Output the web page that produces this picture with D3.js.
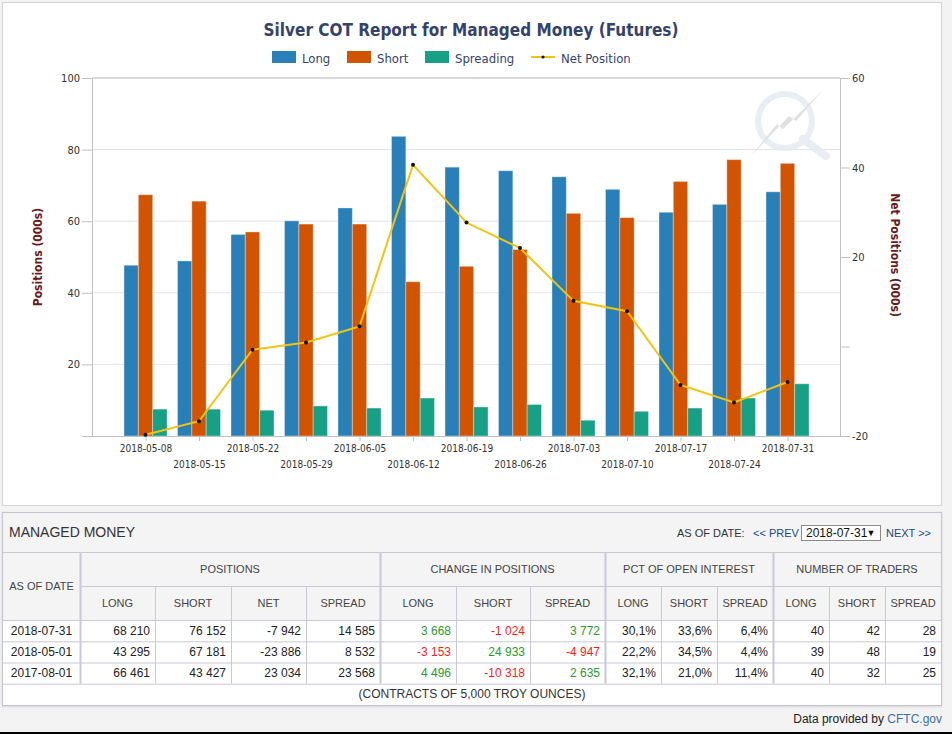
<!DOCTYPE html>
<html>
<head>
<meta charset="utf-8">
<script src="https://cdn.jsdelivr.net/npm/d3@7"></script>
<style>
  body { margin: 0; background: #f3f3f3; }
  svg { display: block; }
</style>
</head>
<body>
<script>
// weekly managed money positions (000s)
const dates = ['2018-05-08', '2018-05-15', '2018-05-22', '2018-05-29', '2018-06-05', '2018-06-12',
	'2018-06-19', '2018-06-26', '2018-07-03', '2018-07-10', '2018-07-17', '2018-07-24', '2018-07-31']
const longPos = [47.7, 48.9, 56.3, 60.1, 63.7, 83.7, 75.1, 74.1, 72.4, 68.9, 62.5, 64.7, 68.21]
const shortPos = [67.4, 65.6, 57.0, 59.2, 59.2, 43.1, 47.4, 52.1, 62.2, 61.0, 71.1, 77.2, 76.152]
const spreadPos = [7.5, 7.5, 7.2, 8.4, 7.8, 10.6, 8.1, 8.8, 4.4, 6.9, 7.8, 10.6, 14.585]
const netPos = [-19.7, -16.7, -0.7, 0.9, 4.5, 40.6, 27.7, 22.0, 10.2, 7.9, -8.6, -12.5, -7.942]
const leftTicks = [0, 20, 40, 60, 80, 100]
const rightTicks = [-20, 0, 20, 40, 60]

// table
const asOfDates = ['2018-07-31', '2018-05-01', '2017-08-01']
const posLong = [68210, 43295, 66461]
const posShort = [76152, 67181, 43427]
const posNet = [-7942, -23886, 23034]
const posSpread = [14585, 8532, 23568]
const chgLong = [3668, -3153, 4496]
const chgShort = [-1024, 24933, -10318]
const chgSpread = [3772, -4947, 2635]
const pctLong = [30.1, 22.2, 32.1]
const pctShort = [33.6, 34.5, 21.0]
const pctSpread = [6.4, 4.4, 11.4]
const tradersLong = [40, 39, 40]
const tradersShort = [42, 48, 32]
const tradersSpread = [28, 19, 25]

const COLORS = { long: '#2980b9', short: '#d35400', spread: '#16a085', net: '#f1c40f' }
const condensed = '"DejaVu Sans Condensed", "DejaVu Sans", sans-serif'
const arial = '"Liberation Sans", Arial, sans-serif'

const svg = d3.select('body').append('svg')
	.attr('width', 952)
	.attr('height', 734)

// ---------- chart panel ----------
svg.append('rect')
	.attr('x', 2.5).attr('y', 2.5).attr('width', 939).attr('height', 503)
	.attr('fill', '#fff').attr('stroke', '#d4d4d4')

const x = d3.scalePoint().domain(dates).range([92, 841]).padding(1)
const sub = d3.scaleBand().domain(['long', 'short', 'spread']).range([-21.5, 21.5])
const yL = d3.scaleLinear().domain([0, 100]).range([436, 78])
const yR = d3.scaleLinear().domain([-20, 60]).range([436, 78])

// grid
svg.append('g')
	.selectAll('line')
	.data([20, 40, 60, 80])
	.join('line')
	.attr('x1', 92).attr('x2', 840)
	.attr('y1', d => yL(d)).attr('y2', d => yL(d))
	.attr('stroke', '#e3e3e3')
svg.append('line')
	.attr('x1', 92).attr('x2', 840).attr('y1', yL(100)).attr('y2', yL(100))
	.attr('stroke', '#b5b5b5')

// watermark
const wm = svg.append('g').attr('opacity', 0.8)
wm.append('line').attr('x1', 803).attr('y1', 139).attr('x2', 826).attr('y2', 156)
	.attr('stroke', '#e6eaef').attr('stroke-width', 8).attr('stroke-linecap', 'round')
wm.append('circle').attr('cx', 785).attr('cy', 121).attr('r', 27)
	.attr('fill', 'none').attr('stroke', '#e6eaef').attr('stroke-width', 6)
wm.append('path')
	.attr('d', 'M750,157 L777,124 L783,129 L823,90 L796,121 L789,116 Z')
	.attr('fill', '#dadada')

// bars
const series = [
	{ key: 'long', values: longPos },
	{ key: 'short', values: shortPos },
	{ key: 'spread', values: spreadPos }
]
svg.append('g')
	.selectAll('g')
	.data(series)
	.join('g')
	.attr('fill', d => COLORS[d.key])
	.selectAll('rect')
	.data(d => d.values.map((v, i) => ({ key: d.key, v, date: dates[i] })))
	.join('rect')
	.attr('x', d => x(d.date) + sub(d.key))
	.attr('width', sub.bandwidth())
	.attr('y', d => yL(d.v))
	.attr('height', d => yL(0) - yL(d.v))
	.attr('stroke', '#fff')
	.attr('stroke-opacity', 0.35)
	.attr('stroke-width', 1)

// axes
const styleAxis = g => {
	g.select('.domain').attr('stroke', '#c0c0c0')
	g.selectAll('.tick line').attr('stroke', '#c0c0c0')
	g.selectAll('.tick text')
		.attr('fill', '#333')
		.style('font-family', condensed)
		.style('font-size', '11px')
}

svg.append('g')
	.attr('transform', 'translate(92,0)')
	.call(d3.axisLeft(yL).tickValues(leftTicks).tickSize(10).tickSizeOuter(0).tickPadding(2)
		.tickFormat(d => d === 0 ? '' : d))
	.call(styleAxis)

svg.append('g')
	.attr('transform', 'translate(840,0)')
	.call(d3.axisRight(yR).tickValues(rightTicks).tickSize(10).tickSizeOuter(0).tickPadding(2)
		.tickFormat(d => d === 0 ? '' : d))
	.call(styleAxis)

const xAxis = svg.append('g')
	.attr('transform', 'translate(0,436)')
	.call(d3.axisBottom(x).tickSize(5).tickSizeOuter(0).tickPadding(8))
	.call(styleAxis)
xAxis.select('.domain').attr('d', 'M82,0.5H840')
xAxis.selectAll('.tick text')
	.style('font-size', '10px')
	.attr('y', (d, i) => i % 2 ? 25 : 9)

// net line
svg.append('path')
	.datum(netPos)
	.attr('fill', 'none')
	.attr('stroke', COLORS.net)
	.attr('stroke-width', 2)
	.attr('d', d3.line().x((d, i) => x(dates[i])).y(d => yR(d)))
svg.append('g')
	.selectAll('circle')
	.data(netPos)
	.join('circle')
	.attr('cx', (d, i) => x(dates[i]))
	.attr('cy', d => yR(d))
	.attr('r', 2)
	.attr('fill', '#111')

// title
svg.append('text')
	.attr('x', 471).attr('y', 36)
	.attr('text-anchor', 'middle')
	.attr('fill', '#34436b')
	.style('font-family', condensed)
	.style('font-size', '17px')
	.style('font-weight', 'bold')
	.text('Silver COT Report for Managed Money (Futures)')

// legend
const legendItems = [
	{ label: 'Long', color: COLORS.long, x: 272 },
	{ label: 'Short', color: COLORS.short, x: 347 },
	{ label: 'Spreading', color: COLORS.spread, x: 425 },
	{ label: 'Net Position', color: COLORS.net, x: 531, line: true }
]
const lg = svg.append('g')
	.selectAll('g')
	.data(legendItems)
	.join('g')
	.attr('transform', d => `translate(${d.x},51)`)
lg.filter(d => !d.line).append('rect')
	.attr('width', 24).attr('height', 12)
	.attr('fill', d => d.color)
lg.filter(d => d.line).append('line')
	.attr('x1', 0).attr('x2', 24).attr('y1', 6).attr('y2', 6)
	.attr('stroke', d => d.color).attr('stroke-width', 2)
lg.filter(d => d.line).append('circle')
	.attr('cx', 12).attr('cy', 6).attr('r', 1.6).attr('fill', '#111')
lg.append('text')
	.attr('x', 30).attr('y', 11.5)
	.attr('fill', '#34436b')
	.style('font-family', condensed)
	.style('font-size', '13px')
	.text(d => d.label)

// axis titles
svg.append('text')
	.attr('transform', 'translate(42,257) rotate(-90)')
	.attr('text-anchor', 'middle')
	.attr('fill', '#6a1a1a')
	.style('font-family', condensed)
	.style('font-size', '12px')
	.style('font-weight', 'bold')
	.text('Positions (000s)')
svg.append('text')
	.attr('transform', 'translate(891,255) rotate(90)')
	.attr('text-anchor', 'middle')
	.attr('fill', '#6a1a1a')
	.style('font-family', condensed)
	.style('font-size', '12px')
	.style('font-weight', 'bold')
	.text('Net Positions (000s)')

// ---------- table panel ----------
const locale = d3.formatLocale({ decimal: ',', thousands: ' ', grouping: [3], currency: ['', ''], minus: '-' })
const fmtInt = locale.format(',d')
const fmtPct = v => locale.format('.1f')(v) + '%'

const cols = [3, 80, 155, 231, 306, 380, 456, 530, 605, 661, 717, 773, 829, 885, 941]
const rowY = [620, 641.3, 662.5, 683.7]
const border = '#c9c9d6'

svg.append('rect')
	.attr('x', 2.5).attr('y', 512.5).attr('width', 939).attr('height', 193)
	.attr('fill', '#fff').attr('stroke', '#c4c4cc')
	.style('filter', 'drop-shadow(0 1px 1px rgba(0,0,0,0.12))')
svg.append('rect')
	.attr('x', 3).attr('y', 513).attr('width', 938).attr('height', 107)
	.attr('fill', '#f4f4f4')

svg.append('text')
	.attr('x', 9).attr('y', 532).attr('dy', '0.35em')
	.attr('fill', '#333')
	.style('font-family', arial).style('font-size', '14px')
	.text('MANAGED MONEY')

// date picker
const nav = svg.append('g').style('font-family', arial).style('font-size', '11px')
nav.append('text').attr('x', 677).attr('y', 533).attr('dy', '0.35em').attr('fill', '#333').text('AS OF DATE:')
nav.append('text').attr('x', 753).attr('y', 533).attr('dy', '0.35em').attr('fill', '#22497a').text('<< PREV')
nav.append('rect').attr('x', 801.5).attr('y', 525.5).attr('width', 79).attr('height', 15)
	.attr('fill', '#fff').attr('stroke', '#8a8a8a')
nav.append('text').attr('x', 806).attr('y', 533).attr('dy', '0.35em').attr('fill', '#111')
	.style('font-size', '12px').text(asOfDates[0])
nav.append('text').attr('x', 871).attr('y', 533).attr('dy', '0.35em').attr('text-anchor', 'middle')
	.attr('fill', '#111').style('font-size', '9px').text('▼')
nav.append('text').attr('x', 886).attr('y', 533).attr('dy', '0.35em').attr('fill', '#22497a').text('NEXT >>')

// grid lines of the table
const tl = svg.append('g').attr('stroke', border)
tl.selectAll('.h')
	.data([552, 586, ...rowY])
	.join('line')
	.attr('x1', 3).attr('x2', 941)
	.attr('y1', d => d + 0.5).attr('y2', d => d + 0.5)
	.attr('x1', d => d === 586 ? cols[1] : 3)
tl.selectAll('.v')
	.data(cols.slice(1, -1))
	.join('line')
	.attr('x1', d => d + 0.5).attr('x2', d => d + 0.5)
	.attr('y1', d => [80, 380, 605, 773].includes(d) ? 552 : 586)
	.attr('y2', rowY[3])
	.attr('stroke-width', d => [80, 380, 605, 773].includes(d) ? 2 : 1)

const headText = svg.append('g')
	.attr('fill', '#444')
	.style('font-family', arial)
	.style('font-size', '11px')
	.attr('text-anchor', 'middle')
headText.append('text').attr('x', (cols[0] + cols[1]) / 2).attr('y', 586).attr('dy', '0.35em').text('AS OF DATE')

const groups = [
	{ label: 'POSITIONS', from: 1, to: 5 },
	{ label: 'CHANGE IN POSITIONS', from: 5, to: 8 },
	{ label: 'PCT OF OPEN INTEREST', from: 8, to: 11 },
	{ label: 'NUMBER OF TRADERS', from: 11, to: 14 }
]
headText.selectAll('.grp')
	.data(groups)
	.join('text')
	.attr('x', d => (cols[d.from] + cols[d.to]) / 2)
	.attr('y', 569).attr('dy', '0.35em')
	.text(d => d.label)

const subHeads = ['LONG', 'SHORT', 'NET', 'SPREAD', 'LONG', 'SHORT', 'SPREAD',
	'LONG', 'SHORT', 'SPREAD', 'LONG', 'SHORT', 'SPREAD']
headText.selectAll('.sub')
	.data(subHeads)
	.join('text')
	.attr('x', (d, i) => (cols[i + 1] + cols[i + 2]) / 2)
	.attr('y', 603).attr('dy', '0.35em')
	.text(d => d)

// rows
const rows = asOfDates.map((date, r) => [
	{ t: date },
	{ t: fmtInt(posLong[r]) },
	{ t: fmtInt(posShort[r]) },
	{ t: fmtInt(posNet[r]) },
	{ t: fmtInt(posSpread[r]) },
	{ t: fmtInt(chgLong[r]), s: chgLong[r] },
	{ t: fmtInt(chgShort[r]), s: chgShort[r] },
	{ t: fmtInt(chgSpread[r]), s: chgSpread[r] },
	{ t: fmtPct(pctLong[r]) },
	{ t: fmtPct(pctShort[r]) },
	{ t: fmtPct(pctSpread[r]) },
	{ t: tradersLong[r] },
	{ t: tradersShort[r] },
	{ t: tradersSpread[r] }
])

svg.append('g')
	.style('font-family', arial)
	.style('font-size', '12px')
	.selectAll('g')
	.data(rows)
	.join('g')
	.attr('transform', (d, r) => `translate(0,${(rowY[r] + rowY[r + 1]) / 2})`)
	.selectAll('text')
	.data(d => d)
	.join('text')
	.attr('x', (d, i) => i === 0 ? (cols[0] + cols[1]) / 2 : cols[i + 1] - 5)
	.attr('text-anchor', (d, i) => i === 0 ? 'middle' : 'end')
	.attr('dy', '0.35em')
	.attr('fill', d => d.s === undefined ? '#222' : d.s < 0 ? '#ff1a1a' : '#2a9a2a')
	.text(d => d.t)

svg.append('text')
	.attr('x', 472).attr('y', 694).attr('dy', '0.35em')
	.attr('text-anchor', 'middle')
	.attr('fill', '#333')
	.style('font-family', arial).style('font-size', '12px')
	.text('(CONTRACTS OF 5,000 TROY OUNCES)')

// footer
const foot = svg.append('text')
	.attr('x', 942).attr('y', 719).attr('dy', '0.35em')
	.attr('text-anchor', 'end')
	.style('font-family', arial).style('font-size', '12px')
foot.append('tspan').attr('fill', '#222').text('Data provided by ')
foot.append('tspan').attr('fill', '#3b6ea8').text('CFTC.gov')

svg.append('rect').attr('x', 0).attr('y', 732).attr('width', 952).attr('height', 2).attr('fill', '#000')
</script>
</body>
</html>
